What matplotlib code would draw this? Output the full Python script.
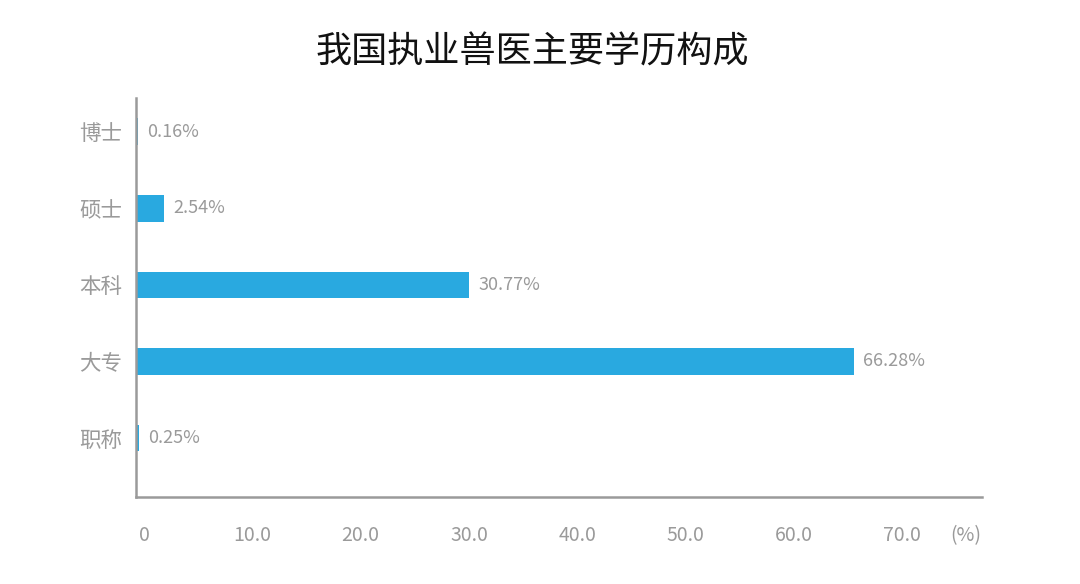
import matplotlib
matplotlib.use('Agg')
import matplotlib.pyplot as plt
import matplotlib.transforms as mtransforms

plt.rcParams['font.family'] = ['Noto Sans CJK SC', 'DejaVu Sans']

# data
categories = ['博士', '硕士', '本科', '大专', '职称']
values = [0.16, 2.54, 30.77, 66.28, 0.25]
xticks = [0, 10, 20, 30, 40, 50, 60, 70]
xtick_labels = ['0', '10.0', '20.0', '30.0', '40.0', '50.0', '60.0', '70.0']

bar_color = '#29a9e0'
grey = '#9a9a9a'

fig = plt.figure(figsize=(10.8, 5.84), dpi=100)
ax = fig.add_axes([0.126, 0.149, 0.783, 0.683])

pos = list(range(len(categories)))
ax.barh(pos, values, height=0.35, color=bar_color)

for y, v in zip(pos, values):
    ax.annotate(f'{v:.2f}%', (v, y), xytext=(7, 0), textcoords='offset points',
                va='center', ha='left', fontsize=13, color=grey, fontweight='light')

ax.set_ylim(4.77, -0.44)
ax.set_xlim(0, 78.1)
ax.set_yticks(pos)
ax.set_yticklabels(categories, fontsize=15.5, color=grey, fontweight='light')
ax.set_xticks(xticks)
ax.set_xticklabels([])

# x tick labels sit a little right of their ticks
trans = mtransforms.blended_transform_factory(ax.transData, ax.transAxes)
trans = trans + mtransforms.ScaledTranslation(8 / 100, 0, fig.dpi_scale_trans)
for x, lab in zip(xticks, xtick_labels):
    ax.text(x, -0.097, lab, transform=trans, ha='center', va='center',
            fontsize=14, color=grey, fontweight='light')
ax.text(1.0, -0.097, '(%)', transform=ax.transAxes, ha='right', va='center',
        fontsize=14, color=grey, fontweight='light')

ax.tick_params(axis='x', length=0)
ax.tick_params(axis='y', length=0, pad=10)

for s in ['top', 'right']:
    ax.spines[s].set_visible(False)
for s in ['left', 'bottom']:
    ax.spines[s].set_color(grey)
    ax.spines[s].set_linewidth(1.8)

fig.text(0.493, 0.91, '我国执业兽医主要学历构成', ha='center', va='center',
         fontsize=26, color='#111111', fontweight='medium')

fig.savefig('out.png', dpi=100)
